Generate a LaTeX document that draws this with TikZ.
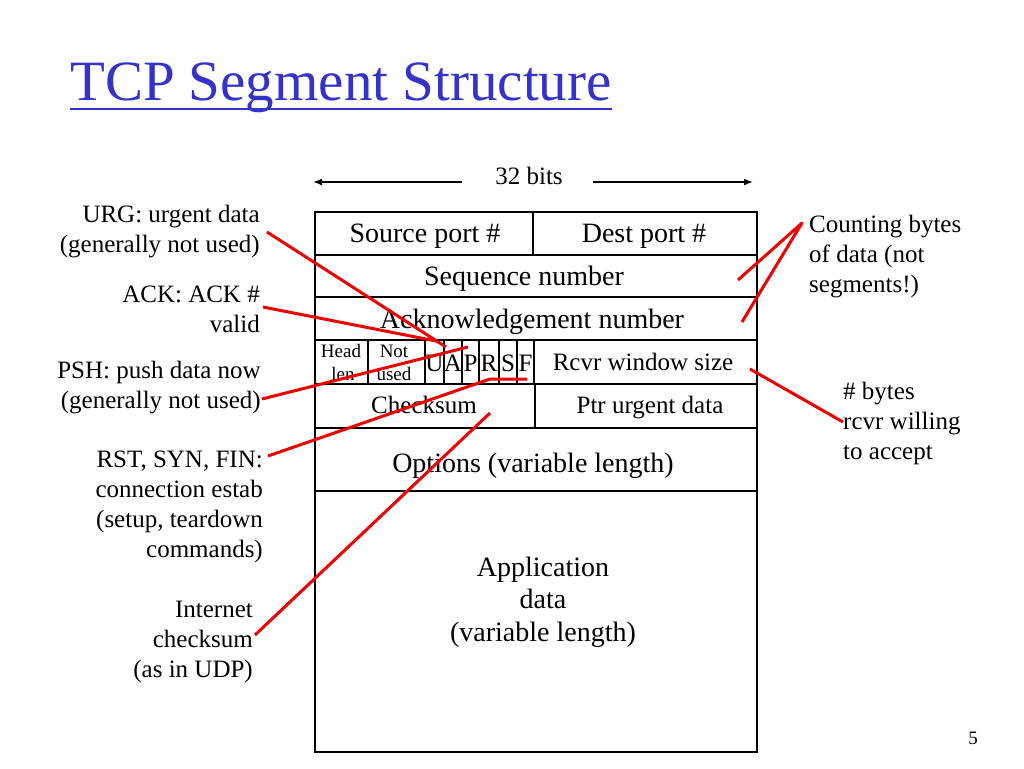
\documentclass[tikz,border=0pt]{standalone}
\usepackage{fontspec}
\setmainfont{Liberation Serif}
\usetikzlibrary{arrows.meta}
\definecolor{titleblue}{RGB}{51,51,204}
\definecolor{lnred}{RGB}{238,0,0}
\tikzset{
  titletext/.style={inner sep=0pt, text=titleblue, font=\fontsize{57}{60}\selectfont},
  lbl/.style={inner sep=0pt, font=\fontsize{25}{30}\selectfont},
  lblr/.style={lbl, align=right, anchor=base east},
  lbll/.style={lbl, align=left, anchor=base west},
  big/.style={inner sep=0pt, anchor=base, font=\fontsize{28}{32.5}\selectfont},
  mid/.style={inner sep=0pt, anchor=base, font=\fontsize{25}{30}\selectfont},
  small/.style={inner sep=0pt, anchor=base, font=\fontsize{19}{23}\selectfont},
  boxline/.style={draw=black, line width=2pt},
  redln/.style={draw=lnred, line width=3pt, line join=round},
  widtharr/.style={draw=black, line width=1.5pt, -{Latex[length=9pt,width=7pt]}}
}
\begin{document}
\begin{tikzpicture}[x=1pt,y=-1pt]
\fill[white] (0,0) rectangle (1024,768);
\useasboundingbox (0,0) rectangle (1024,768);

% title
\node[titletext, anchor=base west] (title) at (70,100) {TCP Segment Structure};
\draw[titleblue, line width=2pt] ([yshift=-9pt]title.base west) -- ([yshift=-9pt]title.base east);

% 32 bits
\node[lbl, anchor=base] (bits) at (529,184) {32 bits};
\coordinate (bitsL) at (313,182);
\coordinate (bitsR) at (753,182);
\draw[widtharr] ([shift={(-33,-2)}]bits.base west) -- (bitsL);
\draw[widtharr] ([shift={(30,-2)}]bits.base east) -- (bitsR);

% table texts
\node[big] (src) at (425,242) {Source port \#};
\node[big] (dst) at (644,242) {Dest port \#};
\node[big] (seq) at (524,285) {Sequence number};
\node[big] (ackn) at (532,328) {Acknowledgement number};
\node[small] (head) at (341,357) {Head};
\node[small] (len) at (343,380) {len};
\node[small] (nt) at (394,357) {Not};
\node[small] (used) at (394,380) {used};
\node[mid] (fu) at (434.5,371) {U};
\node[mid] (fa) at (453,371) {A};
\node[mid] (fp) at (470.5,371) {P};
\node[mid] (fr) at (489,371) {R};
\node[mid] (fs) at (508,371) {S};
\node[mid] (ff) at (525.5,371) {F};
\node[mid] (rcvr) at (643,370) {Rcvr window size};
\node[mid] (cks) at (424,413) {Checksum};
\node[mid] (ptr) at (650,413) {Ptr urgent data};
\node[big] (opt) at (533,472) {Options (variable length)};
\node[big, align=center] (app) at (543,641) {Application\\data\\(variable length)};

% table grid
\draw[boxline] (315,212) rectangle (757,752);
\foreach \yy in {255,297,340,384,428,491} { \draw[boxline] (315,\yy) -- (757,\yy); }
\draw[boxline] (533,212) -- (533,255);
\foreach \xx in {368,425,444,462,479,499,517,534} { \draw[boxline] (\xx,340) -- (\xx,384); }
\draw[boxline] (535,384) -- (535,428);

% page number
\node[inner sep=0pt, anchor=base, font=\fontsize{19}{21}\selectfont] (pg) at (973,744) {5};

% labels (anchor = baseline of last line)
\node[lblr] (urg) at (260,252) {URG: urgent data\\(generally not used)};
\node[lblr] (ack) at (260,332) {ACK: ACK \#\\valid};
\node[lblr] (psh) at (261,408) {PSH: push data now\\(generally not used)};
\node[lblr] (rst) at (263,557) {RST, SYN, FIN:\\connection estab\\(setup, teardown\\commands)};
\node[lblr] (inet) at (253,677) {Internet\\checksum\\(as in UDP)};
\node[lbll] (cnt) at (809,292) {Counting bytes\\of data (not\\segments!)};
\node[lbll] (byt) at (843,459) {\# bytes\\rcvr willing\\to accept};

% connector ends
\coordinate (urgEnd) at (446,347);
\coordinate (ackEnd) at (436,341);
\coordinate (pshEnd) at (468,347);
\coordinate (rstBend) at (490,379);
\coordinate (rstEnd) at (527,379);
\coordinate (inetEnd) at (490,413);
\coordinate (seqEnd) at (738,280);
\coordinate (ackNumEnd) at (742,322);
\coordinate (winEnd) at (750,369);

% red connectors
\draw[redln] ([shift={(7,-20)}]urg.base east) -- (urgEnd);
\draw[redln] ([shift={(3,-25)}]ack.base east) -- (ackEnd);
\draw[redln] ([shift={(1,-9)}]psh.base east) -- (pshEnd);
\draw[redln] ([shift={(5,-101)}]rst.base east) -- (rstBend) -- (rstEnd);
\draw[redln] ([shift={(2,-42)}]inet.base east) -- (inetEnd);
\draw[redln] (seqEnd) -- ([shift={(-7,-69)}]cnt.base west) -- (ackNumEnd);
\draw[redln] ([shift={(0,-37)}]byt.base west) -- (winEnd);
\end{tikzpicture}
\end{document}
